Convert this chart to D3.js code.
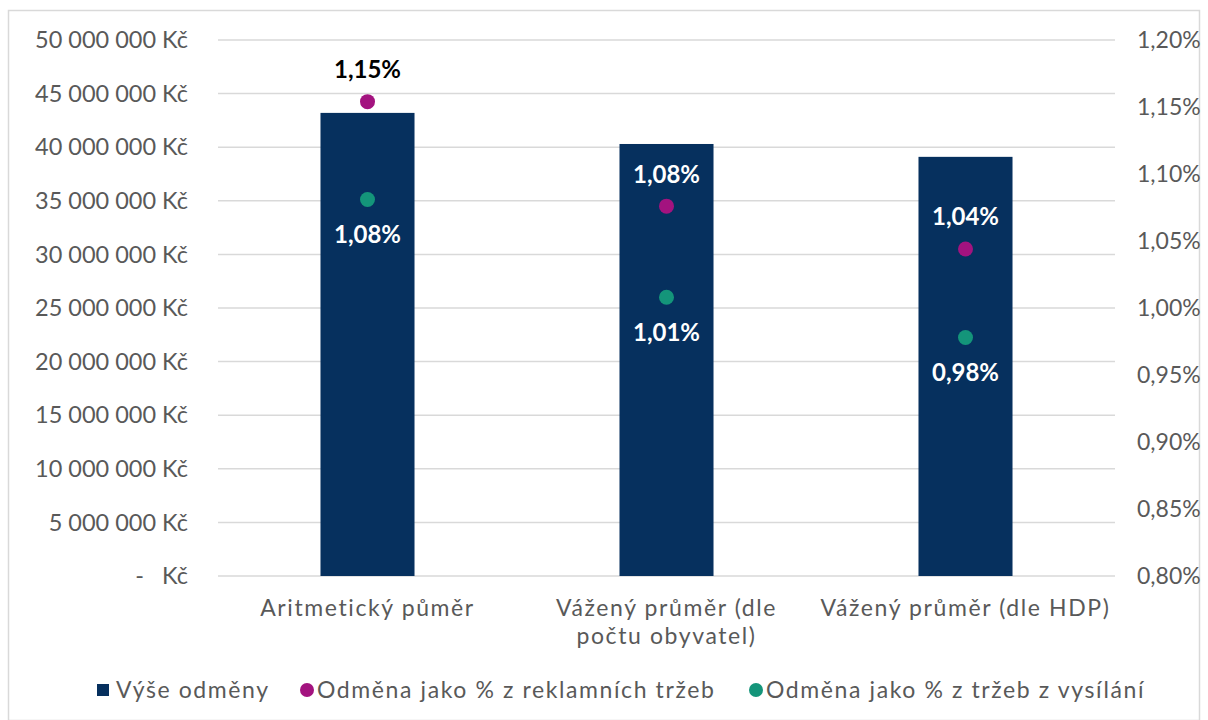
<!DOCTYPE html>
<html>
<head>
<meta charset="utf-8">
<script src="https://cdn.jsdelivr.net/npm/d3@7"></script>
<style>
  body { margin: 0; background: #fff; }
  svg text { font-family: "Lato", "DejaVu Sans", sans-serif; }
</style>
</head>
<body>
<svg id="chart"></svg>
<script>
(function () {

// data
const categories = ["Aritmetický půměr", "Vážený průměr (dle počtu obyvatel)", "Vážený průměr (dle HDP)"];
const categoryLines = [["Aritmetický půměr"], ["Vážený průměr (dle", "počtu obyvatel)"], ["Vážený průměr (dle HDP)"]];
const rewardValues = [43200000, 40300000, 39100000];       // Výše odměny (Kč)
const adShareValues = [1.154, 1.076, 1.044];                // % z reklamních tržeb
const broadcastShareValues = [1.081, 1.008, 0.978];         // % z tržeb z vysílání
const leftTicks = [0, 5e6, 10e6, 15e6, 20e6, 25e6, 30e6, 35e6, 40e6, 45e6, 50e6];
const rightTicks = [0.80, 0.85, 0.90, 0.95, 1.00, 1.05, 1.10, 1.15, 1.20];
const seriesNames = ["Výše odměny", "Odměna jako % z reklamních tržeb", "Odměna jako % z tržeb z vysílání"];

const W = 1208, H = 720;
const margin = {top: 40, right: 93, bottom: 144, left: 218},
    width = W - margin.left - margin.right,
    height = H - margin.top - margin.bottom;

const colBar = "#06305e", colAd = "#a3137f", colBc = "#14957a", textCol = "#595959";

const root = d3.select("#chart").attr("width", W).attr("height", H);

// outer chart border
root.append("rect")
    .attr("x", 8.5).attr("y", 10.5)
    .attr("width", W - 17).attr("height", H - 10)
    .attr("fill", "#fff").attr("stroke", "#d9d9d9").attr("stroke-width", 1.5);

const svg = root.append("g").attr("transform", `translate(${margin.left},${margin.top})`);

const x = d3.scaleBand().domain(categories).range([0, width]).paddingInner(0).paddingOuter(0);
const barW = x.bandwidth() / 3.18;
const y = d3.scaleLinear().domain([0, 50e6]).range([height, 0]);
const y2 = d3.scaleLinear().domain([0.8, 1.2]).range([height, 0]);

const fmtKc = v => v === 0 ? "-   Kč" : d3.format(",")(v).replace(/,/g, " ") + " Kč";
const fmtPct = v => d3.format(".2f")(v).replace(".", ",") + "%";

// gridlines
svg.append("g")
    .selectAll("line")
    .data(leftTicks)
    .join("line")
    .attr("x1", 0).attr("x2", width)
    .attr("y1", d => y(d)).attr("y2", d => y(d))
    .attr("stroke", "#d9d9d9").attr("stroke-width", 1.5);

// left axis
const leftAxis = svg.append("g")
    .call(d3.axisLeft(y).tickValues(leftTicks).tickFormat(fmtKc).tickSize(0).tickPadding(30));
leftAxis.select(".domain").remove();
leftAxis.selectAll("text").attr("fill", textCol).style("font-size", "23.5px")
    .style("white-space", "pre").attr("dy", "0.33em");

// right axis
const rightAxis = svg.append("g")
    .attr("transform", `translate(${width},0)`)
    .call(d3.axisRight(y2).tickValues(rightTicks).tickFormat(fmtPct).tickSize(0).tickPadding(22));
rightAxis.select(".domain").remove();
rightAxis.selectAll("text").attr("fill", textCol).style("font-size", "23px").attr("dy", "0.33em");

// bars
svg.selectAll(".bar")
    .data(categories)
    .join("rect")
    .attr("class", "bar")
    .attr("x", (d, i) => x(d) + x.bandwidth() / 2 - barW / 2)
    .attr("y", (d, i) => y(rewardValues[i]))
    .attr("width", barW)
    .attr("height", (d, i) => height - y(rewardValues[i]))
    .attr("fill", colBar);

// category labels
const catG = svg.append("g");
categories.forEach((c, i) => {
  const t = catG.append("text")
      .attr("x", x(c) + x.bandwidth() / 2)
      .attr("y", height + 40)
      .attr("text-anchor", "middle")
      .attr("fill", textCol)
      .style("font-size", "23px")
      .style("letter-spacing", "1.6px");
  categoryLines[i].forEach((ln, j) => {
    t.append("tspan").attr("x", x(c) + x.bandwidth() / 2).attr("dy", j === 0 ? 0 : 28).text(ln);
  });
});

// points + labels
function drawPoints(vals, col, labelDy, labelCol) {
  const g = svg.append("g");
  g.selectAll("circle")
      .data(vals)
      .join("circle")
      .attr("cx", (d, i) => x(categories[i]) + x.bandwidth() / 2)
      .attr("cy", d => y2(d))
      .attr("r", 7.5)
      .attr("fill", col);
  g.selectAll("text")
      .data(vals)
      .join("text")
      .attr("x", (d, i) => x(categories[i]) + x.bandwidth() / 2)
      .attr("y", d => y2(d) + labelDy)
      .attr("text-anchor", "middle")
      .attr("dy", "0.35em")
      .attr("fill", labelCol)
      .style("font-size", "24px")
      .style("font-weight", "bold")
      .text(d => fmtPct(d));
}
drawPoints(adShareValues, colAd, -32, (d, i) => y2(d) < y(rewardValues[i]) ? "#000" : "#fff");
drawPoints(broadcastShareValues, colBc, 35, "#fff");

// legend
const legendY = 690 - margin.top;
const legend = svg.append("g").attr("transform", `translate(${-margin.left},${legendY})`);
const lx = [97, 300, 749];
legend.append("rect").attr("x", lx[0]).attr("y", -6).attr("width", 12).attr("height", 12).attr("fill", colBar);
legend.append("circle").attr("cx", lx[1] + 7).attr("cy", 0).attr("r", 7).attr("fill", colAd);
legend.append("circle").attr("cx", lx[2] + 7).attr("cy", 0).attr("r", 7).attr("fill", colBc);
seriesNames.forEach((n, i) => {
  legend.append("text")
      .attr("x", lx[i] + (i === 0 ? 19 : 17))
      .attr("y", 0)
      .attr("dy", "0.35em")
      .attr("fill", textCol)
      .style("font-size", "23px")
      .style("letter-spacing", "1.6px")
      .text(n);
});

})();
</script>
</body>
</html>
